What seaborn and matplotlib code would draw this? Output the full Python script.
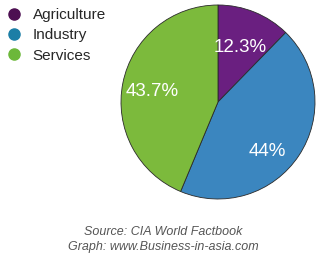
import matplotlib
matplotlib.use("Agg")
import matplotlib.pyplot as plt
from matplotlib.lines import Line2D
import seaborn as sns

categories = ["Agriculture", "Industry", "Services"]
values = [12.3, 44.0, 43.7]
pct_labels = ["12.3%", "44%", "43.7%"]
legend_colors = ["#4d0f52", "#1c7ea6", "#6cb83a"]
slice_colors = ["#6a1f80", "#3b86bf", "#7cba3c"]
source_lines = ["Source: CIA World Factbook", "Graph: www.Business-in-asia.com"]

sns.set_theme(style="white")
plt.rcParams["font.family"] = ["Liberation Sans", "DejaVu Sans"]

W, H = 331, 263
fig = plt.figure(figsize=(W / 100, H / 100), dpi=100)
fig.patch.set_facecolor("white")

cx, cy, r = 218, 102, 97
ax = fig.add_axes([(cx - r) / W, (H - cy - r) / H, 2 * r / W, 2 * r / H])
wedges, texts, autotexts = ax.pie(
    values, colors=slice_colors, startangle=90, counterclock=False,
    autopct="%1.1f%%", pctdistance=0.66,
    wedgeprops=dict(edgecolor="#2a2a2a", linewidth=0.6),
    textprops=dict(color="white", fontsize=13.5),
)
for t, lab in zip(autotexts, pct_labels):
    t.set_text(lab)
# nudge labels as in the reference
x, y = autotexts[0].get_position()
autotexts[0].set_position((x - 0.02, y - 0.05))
x, y = autotexts[1].get_position()
autotexts[1].set_position((x - 0.04, y - 0.15))
x, y = autotexts[2].get_position()
autotexts[2].set_position((x - 0.03, y - 0.02))
ax.set_xlim(-1, 1)
ax.set_ylim(-1, 1)
ax.set_aspect("equal")
ax.axis("off")

handles = [Line2D([], [], marker="o", linestyle="", markersize=8,
                  markerfacecolor=c, markeredgecolor=c) for c in legend_colors]
fig.legend(handles, categories, loc="upper left", bbox_to_anchor=(0.0, 0.993),
           frameon=False, fontsize=11, handletextpad=0.75, labelspacing=0.42,
           borderaxespad=0.15, handlelength=1.0, borderpad=0.25)

fig.text(163 / W, 1 - 232 / H, source_lines[0], ha="center", va="center",
         fontsize=9, style="italic", color="#555555")
fig.text(163 / W, 1 - 247 / H, source_lines[1], ha="center", va="center",
         fontsize=9, style="italic", color="#555555")

fig.savefig("out.png", dpi=100, facecolor="white")
